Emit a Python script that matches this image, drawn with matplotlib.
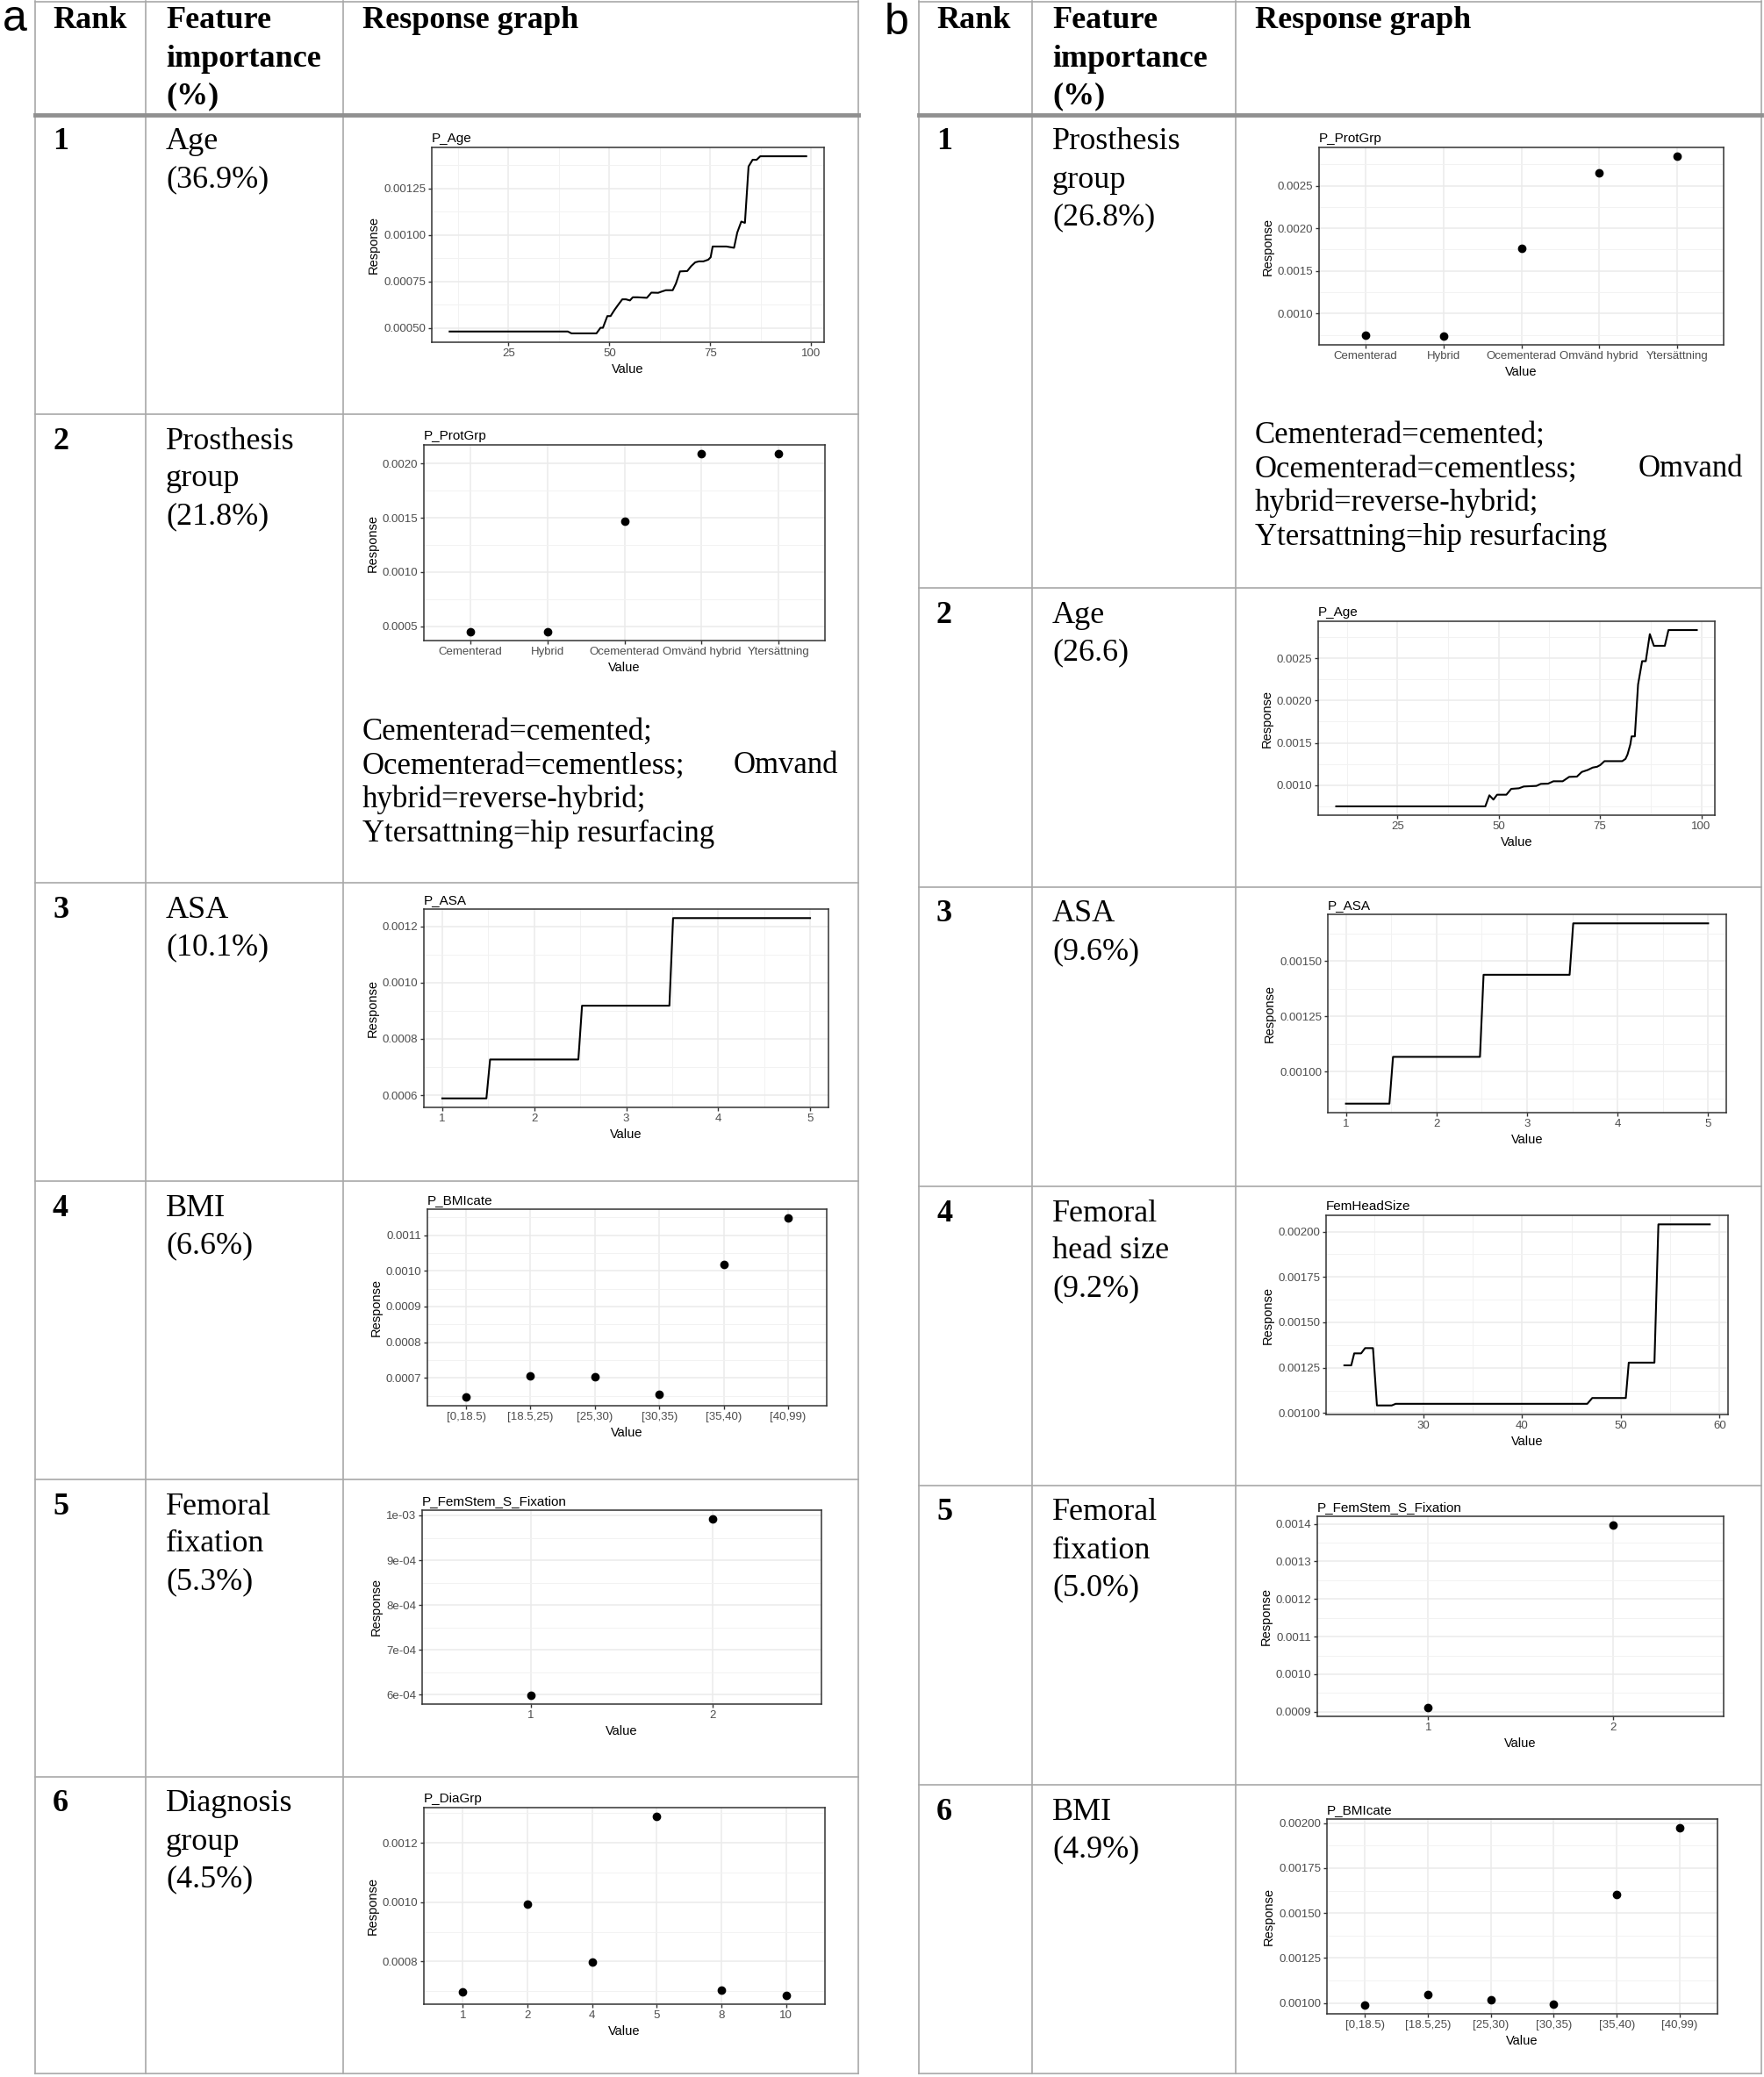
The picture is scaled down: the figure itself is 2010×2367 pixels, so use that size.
import numpy as np
import matplotlib.pyplot as plt
from matplotlib.ticker import FixedLocator, FormatStrFormatter, AutoMinorLocator

W, H = 2010, 2367

plt.rcParams['font.family'] = ['Liberation Sans', 'DejaVu Sans']
SERIF = ['Liberation Serif', 'DejaVu Serif']

# ---------------- table text ----------------
header_feat = ["Feature", "importance", "(%)"]

a_features = [["Age", "(36.9%)"],
              ["Prosthesis", "group", "(21.8%)"],
              ["ASA", "(10.1%)"],
              ["BMI", "(6.6%)"],
              ["Femoral", "fixation", "(5.3%)"],
              ["Diagnosis", "group", "(4.5%)"]]
b_features = [["Prosthesis", "group", "(26.8%)"],
              ["Age", "(26.6)"],
              ["ASA", "(9.6%)"],
              ["Femoral", "head size", "(9.2%)"],
              ["Femoral", "fixation", "(5.0%)"],
              ["BMI", "(4.9%)"]]

notes = [["Cementerad=cemented;"],
         ["Ocementerad=cementless;", "Omvand"],
         ["hybrid=reverse-hybrid;"],
         ["Ytersattning=hip resurfacing"]]

# ---------------- response data ----------------
a_age_x = [10.4, 39.7, 40.6, 46.8, 47.8, 48.4, 49.5, 50.3, 51.3, 52.2, 53.2, 54.1, 55.1, 55.8,
           57.0, 59.3, 60.4, 62.1, 63.0, 64.0, 65.7, 66.5, 67.5, 69.3, 70.3, 71.3, 72.2, 73.3,
           74.5, 75.1, 75.6, 79.0, 80.9, 81.7, 82.7, 83.6, 84.5, 85.5, 86.5, 87.4, 98.8]
a_age_y = [0.00048, 0.00048, 0.00047, 0.00047, 0.00050, 0.00050, 0.000563, 0.000563, 0.000597,
           0.000624, 0.000653, 0.000653, 0.000647, 0.000664, 0.000664, 0.000661, 0.000689,
           0.000688, 0.000695, 0.000702, 0.000702, 0.000738, 0.000803, 0.000805, 0.000832,
           0.000852, 0.000857, 0.000857, 0.000866, 0.000879, 0.000937, 0.000937, 0.000930,
           0.001012, 0.001071, 0.001064, 0.001367, 0.001403, 0.001403, 0.001422, 0.001422]

b_age_x = [9.9, 46.7, 47.7, 48.7, 49.6, 51.9, 53.1, 55.0, 56.2, 59.3, 60.4, 62.2, 63.5, 65.8,
           67.4, 69.3, 70.5, 72.0, 73.2, 74.3, 75.1, 76.1, 80.5, 81.3, 81.8, 82.5, 82.8, 83.6,
           84.4, 85.4, 86.3, 87.3, 88.3, 91.0, 91.9, 98.9]
b_age_y = [0.000748, 0.000748, 0.000879, 0.000828, 0.000886, 0.000886, 0.000955, 0.000962,
           0.000983, 0.00099, 0.001014, 0.001017, 0.001045, 0.001045, 0.001097, 0.0011,
           0.001155, 0.001179, 0.001207, 0.001217, 0.001238, 0.001283, 0.001283, 0.00131,
           0.001362, 0.001483, 0.001576, 0.001576, 0.00219, 0.002466, 0.002466, 0.002786,
           0.002648, 0.002648, 0.002834, 0.002834]

prot_cats = ["Cementerad", "Hybrid", "Ocementerad", "Omvänd hybrid", "Ytersättning"]
a_prot_y = [0.000449, 0.000449, 0.001469, 0.002092, 0.002092]
b_prot_y = [0.000744, 0.00074, 0.001766, 0.002654, 0.002842]

asa_x = [1, 1.48, 1.52, 2.48, 2.52, 3.47, 3.51, 5]
a_asa_y = [0.000589, 0.000589, 0.000727, 0.000727, 0.000918, 0.000918, 0.001229, 0.001229]
b_asa_y = [0.000854, 0.000854, 0.001066, 0.001066, 0.001438, 0.001438, 0.001671, 0.001671]

bmi_cats = ["[0,18.5)", "[18.5,25)", "[25,30)", "[30,35)", "[35,40)", "[40,99)"]
a_bmi_y = [0.000647, 0.000706, 0.000703, 0.000655, 0.001018, 0.001148]
b_bmi_y = [0.000989, 0.001049, 0.001018, 0.000995, 0.001602, 0.001974]

fix_cats = ["1", "2"]
a_fix_y = [0.000599, 0.000992]
b_fix_y = [0.000912, 0.001396]

dia_cats = ["1", "2", "4", "5", "8", "10"]
a_dia_y = [0.000696, 0.000993, 0.000797, 0.001289, 0.000704, 0.000686]

fhs_x = [22.0, 22.7, 23.0, 23.7, 24.1, 24.9, 25.3, 26.8, 27.2, 46.6, 47.1, 50.5, 50.8, 53.4, 53.8, 59.0]
fhs_y = [0.001263, 0.001263, 0.001329, 0.001329, 0.001358, 0.001358, 0.001042, 0.001042,
         0.001051, 0.001051, 0.001083, 0.001083, 0.001278, 0.001278, 0.00204, 0.00204]

# ---------------- figure ----------------
fig = plt.figure(figsize=(W / 100, H / 100), dpi=100)
bg = fig.add_axes([0, 0, 1, 1])
bg.set_xlim(0, W)
bg.set_ylim(H, 0)
bg.axis('off')

LINE = '#A8A8A8'
FS = 26


def draw_table(cols, rows, features):
    left, c1, c2, right = cols
    bottom = rows[-1]
    for x in cols:
        bg.plot([x, x], [1, bottom], color=LINE, lw=1.2)
    bg.plot([left, right], [1.5, 1.5], color=LINE, lw=1.2)
    bg.plot([left, right], [131, 131], color='#909090', lw=3.5)
    for y in rows[1:]:
        bg.plot([left, right], [y, y], color=LINE, lw=1.2)
    # header
    bg.text(left + 20, 24, "Rank", fontsize=FS, fontweight='bold', family=SERIF, va='center')
    for i, s in enumerate(header_feat):
        bg.text(c1 + 23, 24 + 43 * i, s, fontsize=FS, fontweight='bold', family=SERIF, va='center')
    bg.text(c2 + 22, 24, "Response graph", fontsize=FS, fontweight='bold', family=SERIF, va='center')
    for r, lines in enumerate(features):
        top = rows[r]
        bg.text(left + 20, top + 31, str(r + 1), fontsize=FS, fontweight='bold',
                family=SERIF, va='center')
        for i, s in enumerate(lines):
            bg.text(c1 + 23, top + 31 + 43 * i, s, fontsize=FS, family=SERIF, va='center')


draw_table([40, 166, 391, 978], [131, 472, 1006, 1346, 1686, 2025, 2363], a_features)
draw_table([1047, 1176, 1408, 2007], [131, 670, 1011, 1352, 1693, 2034, 2363], b_features)


def draw_notes(x0, x1, y0):
    for i, parts in enumerate(notes):
        y = y0 + 38.8 * i
        bg.text(x0, y, parts[0], fontsize=25, family=SERIF, va='center', ha='left')
        if len(parts) > 1:
            bg.text(x1, y, parts[1], fontsize=25, family=SERIF, va='center', ha='right')


draw_notes(413, 955, 834)
draw_notes(1430, 1986, 496)

bg.text(3, 22, "a", fontsize=36, va='center', ha='left')
bg.text(1008, 26, "b", fontsize=36, va='center', ha='left')


def panel(box, title, x, y, yticks, yfmt, kind='line', xticks=None):
    l, t, r, b = box
    ax = fig.add_axes([l / W, 1 - b / H, (r - l) / W, (b - t) / H])
    ax.set_facecolor('white')
    if kind == 'line':
        ax.plot(x, y, color='black', lw=1.5)
        ax.margins(x=0.05, y=0.05)
        ax.xaxis.set_major_locator(FixedLocator(xticks))
        ax.xaxis.set_minor_locator(AutoMinorLocator(2))
        ax.grid(True, which='minor', axis='x', color='#F2F2F2', lw=0.7)
    else:
        ax.plot(x, y, 'o', color='black', ms=6)
        ax.set_xlim(-0.6, len(x) - 0.4)
        ax.margins(y=0.05)
    ax.yaxis.set_major_locator(FixedLocator(yticks))
    ax.yaxis.set_major_formatter(FormatStrFormatter(yfmt))
    ax.yaxis.set_minor_locator(AutoMinorLocator(2))
    ax.grid(True, which='major', color='#EBEBEB', lw=1.1)
    ax.grid(True, which='minor', axis='y', color='#F2F2F2', lw=0.7)
    ax.set_axisbelow(True)
    for sp in ax.spines.values():
        sp.set_color('#333333')
        sp.set_linewidth(1.1)
    ax.tick_params(which='major', length=3, width=1, color='#333333', labelcolor='#4D4D4D',
                   labelsize=9.5, pad=2)
    ax.tick_params(which='minor', length=0)
    ax.set_xlabel('Value', fontsize=10.5, labelpad=3.5)
    ax.set_ylabel('Response', fontsize=10.5, labelpad=3)
    ax.set_title(title, loc='left', fontsize=11, pad=4)
    return ax


# panel a
panel((492, 168, 939, 390), 'P_Age', a_age_x, a_age_y,
      [0.0005, 0.00075, 0.001, 0.00125], '%.5f', 'line', [25, 50, 75, 100])
panel((483, 507, 940, 730), 'P_ProtGrp', prot_cats, a_prot_y,
      [0.0005, 0.001, 0.0015, 0.002], '%.4f', 'cat')
panel((483, 1036, 944, 1262), 'P_ASA', asa_x, a_asa_y,
      [0.0006, 0.0008, 0.001, 0.0012], '%.4f', 'line', [1, 2, 3, 4, 5])
panel((487, 1378, 942, 1602), 'P_BMIcate', bmi_cats, a_bmi_y,
      [0.0007, 0.0008, 0.0009, 0.001, 0.0011], '%.4f', 'cat')
panel((481, 1721, 936, 1942), 'P_FemStem_S_Fixation', fix_cats, a_fix_y,
      [0.0006, 0.0007, 0.0008, 0.0009, 0.001], '%.0e', 'cat')
panel((483, 2060, 940, 2284), 'P_DiaGrp', dia_cats, a_dia_y,
      [0.0008, 0.001, 0.0012], '%.4f', 'cat')

# panel b
panel((1503, 168, 1964, 393), 'P_ProtGrp', prot_cats, b_prot_y,
      [0.001, 0.0015, 0.002, 0.0025], '%.4f', 'cat')
panel((1502, 708, 1954, 929), 'P_Age', b_age_x, b_age_y,
      [0.001, 0.0015, 0.002, 0.0025], '%.4f', 'line', [25, 50, 75, 100])
panel((1513, 1042, 1967, 1268), 'P_ASA', asa_x, b_asa_y,
      [0.001, 0.00125, 0.0015], '%.5f', 'line', [1, 2, 3, 4, 5])
panel((1511, 1385, 1969, 1612), 'FemHeadSize', fhs_x, fhs_y,
      [0.001, 0.00125, 0.0015, 0.00175, 0.002], '%.5f', 'line', [30, 40, 50, 60])
panel((1501, 1728, 1964, 1956), 'P_FemStem_S_Fixation', fix_cats, b_fix_y,
      [0.0009, 0.001, 0.0011, 0.0012, 0.0013, 0.0014], '%.4f', 'cat')
panel((1512, 2073, 1957, 2295), 'P_BMIcate', bmi_cats, b_bmi_y,
      [0.001, 0.00125, 0.0015, 0.00175, 0.002], '%.5f', 'cat')

fig.savefig('out.png', dpi=100)
